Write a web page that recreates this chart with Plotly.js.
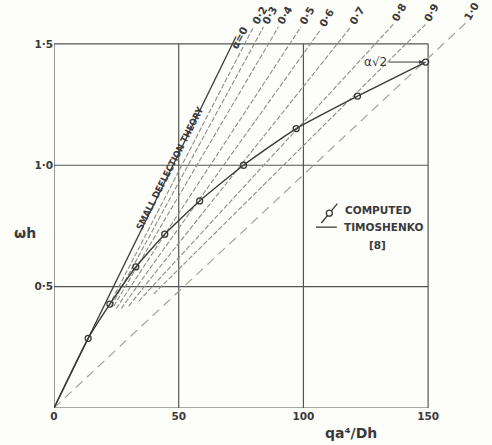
<!DOCTYPE html>
<html>
<head>
<meta charset="utf-8">
<script src="https://cdn.plot.ly/plotly-3.0.1.min.js"></script>
<style>html,body{margin:0;padding:0;background:#fdfdfa;}</style>
</head>
<body>
<div id="chart" style="width:492px;height:445px;"></div>
<script>
// ---- data ----
const xTickVals = [0, 50, 100, 150];
const xTickText = ['0', '50', '100', '150'];
const yTickVals = [0.5, 1.0, 1.5];
const yTickText = ['0·5', '1·0', '1·5'];

// small deflection theory (alpha = 0)
const smallX = [0, 73];
const smallY = [0, 1.53];

// Timoshenko [8] curve
const timoX = [0, 13.7, 22.4, 32.8, 44.4, 58.4, 76, 97.1, 121.7, 149];
const timoY = [0, 0.287, 0.428, 0.581, 0.716, 0.853, 1.0, 1.151, 1.285, 1.425];

// computed points
const compX = [13.7, 22.4, 32.8, 44.4, 58.4, 76, 97.1, 121.7, 149];
const compY = [0.287, 0.428, 0.581, 0.716, 0.853, 1.0, 1.151, 1.285, 1.425];

// constant-alpha lines
const alphaLabels = ['0·2', '0·3', '0·4', '0·5', '0·6', '0·7', '0·8', '0·9', '1·0'];
const alphaStartX = [22, 23, 24, 25, 27, 30, 34, 40, 0];
const alphaStartY = [0.42, 0.42, 0.42, 0.41, 0.41, 0.42, 0.44, 0.47, 0];
const alphaEndX = [80, 84, 90, 99, 107, 119, 136, 149, 165];
const alphaEndY = [1.57, 1.57, 1.57, 1.57, 1.56, 1.57, 1.58, 1.58, 1.585];

const X_RANGE = [0, 170];
const Y_RANGE = [0, 1.66];
const px = v => (v - X_RANGE[0]) / (X_RANGE[1] - X_RANGE[0]);
const py = v => (v - Y_RANGE[0]) / (Y_RANGE[1] - Y_RANGE[0]);

const ink = '#3a3a3a';
const font = {family: 'DejaVu Sans', size: 10.5, color: ink, weight: 'bold'};

const traces = [];
alphaLabels.forEach((lab, i) => {
  const last = i === alphaLabels.length - 1;
  traces.push({
    x: [alphaStartX[i], alphaEndX[i]],
    y: [alphaStartY[i], alphaEndY[i]],
    mode: 'lines', hoverinfo: 'skip', showlegend: false,
    line: last ? {color: '#a4a496', width: 1.2, dash: '9px,6px'}
               : {color: '#8c8c8c', width: 1.1, dash: '5px,2px'}
  });
});
traces.push({x: smallX, y: smallY, mode: 'lines', showlegend: false,
  line: {color: ink, width: 1.3}});
traces.push({x: timoX, y: timoY, mode: 'lines', showlegend: false,
  line: {color: ink, width: 1.4, shape: 'spline', smoothing: 0.5}});
traces.push({x: compX, y: compY, mode: 'markers', showlegend: false,
  marker: {symbol: 'circle-open', size: 6, color: ink, line: {width: 1.3, color: ink}}});

// frame and grid drawn only over the 0..150 / 0..1.5 region
const xMax = xTickVals[xTickVals.length - 1];
const yMax = yTickVals[yTickVals.length - 1];
const gridLine = {color: '#555', width: 1.2};
const shapes = [];
xTickVals.forEach(v => shapes.push({type: 'line', xref: 'x', yref: 'y', x0: v, x1: v, y0: 0, y1: yMax, line: gridLine, layer: 'below'}));
[0].concat(yTickVals).forEach(v => shapes.push({type: 'line', xref: 'x', yref: 'y', x0: 0, x1: xMax, y0: v, y1: v, line: gridLine, layer: 'below'}));

const annotations = [];
alphaLabels.forEach((lab, i) => {
  annotations.push({x: px(alphaEndX[i]), y: py(alphaEndY[i]), xref: 'paper', yref: 'paper', text: lab,
    showarrow: false, textangle: -60, xanchor: 'center', yanchor: 'middle',
    xshift: 6, yshift: 12, font: font});
});
annotations.push({x: px(smallX[1]), y: py(smallY[1]), xref: 'paper', yref: 'paper', text: 'α=0',
  showarrow: false, textangle: -62, xshift: 3, yshift: 14, font: font});
annotations.push({x: 46.5, y: 0.99, xref: 'x', yref: 'y', text: 'SMALL DEFLECTION THEORY',
  showarrow: false, textangle: -63, font: {family: 'DejaVu Sans Condensed', size: 9.5, color: ink, weight: 'bold'}});
annotations.push({x: compX[compX.length - 1] - 1, y: compY[compY.length - 1], ax: 129, ay: compY[compY.length - 1],
  xref: 'x', yref: 'y', axref: 'x', ayref: 'y', text: 'α√2', showarrow: true,
  arrowhead: 2, arrowsize: 0.8, arrowwidth: 1, arrowcolor: ink,
  font: {family: 'DejaVu Sans', size: 12, color: ink}});
// legend
annotations.push({x: 116, y: 0.815, xref: 'x', yref: 'y', text: 'COMPUTED', showarrow: false,
  xanchor: 'left', font: font});
annotations.push({x: 115.6, y: 0.745, xref: 'x', yref: 'y', text: 'TIMOSHENKO', showarrow: false,
  xanchor: 'left', font: font});
annotations.push({x: 129.6, y: 0.672, xref: 'x', yref: 'y', text: '[8]', showarrow: false, font: font});
// axis titles (paper coordinates so they may sit outside the axis range)
annotations.push({x: px(108), y: py(-0.105), xref: 'paper', yref: 'paper', text: 'qa⁴/Dh', showarrow: false,
  xanchor: 'left', yanchor: 'middle',
  font: {family: 'DejaVu Sans', size: 14, color: ink, weight: 'bold'}});
annotations.push({x: px(-17), y: py(0.72), xref: 'paper', yref: 'paper', text: 'ωh', showarrow: false,
  font: {family: 'DejaVu Sans', size: 14, color: ink, weight: 'bold'}});

// legend glyph shapes
shapes.push({type: 'line', xref: 'x', yref: 'y', x0: 107.2, x1: 113.6, y0: 0.762, y1: 0.842, line: {color: ink, width: 1.3}});
shapes.push({type: 'circle', xref: 'x', yref: 'y', x0: 109.2, x1: 111.6, y0: 0.79, y1: 0.815, line: {color: ink, width: 1.3}, fillcolor: '#fdfdfa'});
shapes.push({type: 'line', xref: 'x', yref: 'y', x0: 105, x1: 113.4, y0: 0.745, y1: 0.745, line: {color: ink, width: 1.3}});

const layout = {
  width: 492, height: 445,
  margin: {l: 54, r: 14, t: 5, b: 37},
  paper_bgcolor: '#fdfdfa', plot_bgcolor: '#fdfdfa',
  showlegend: false,
  xaxis: {range: X_RANGE, tickvals: xTickVals, ticktext: xTickText, showgrid: false,
    zeroline: false, showline: false, ticks: '', tickfont: font, fixedrange: true},
  yaxis: {range: Y_RANGE, tickvals: yTickVals, ticktext: yTickText, showgrid: false,
    zeroline: false, showline: false, ticks: '', tickfont: font, fixedrange: true},
  shapes: shapes,
  annotations: annotations
};

Plotly.newPlot('chart', traces, layout, {staticPlot: true, displayModeBar: false});
</script>
</body>
</html>
